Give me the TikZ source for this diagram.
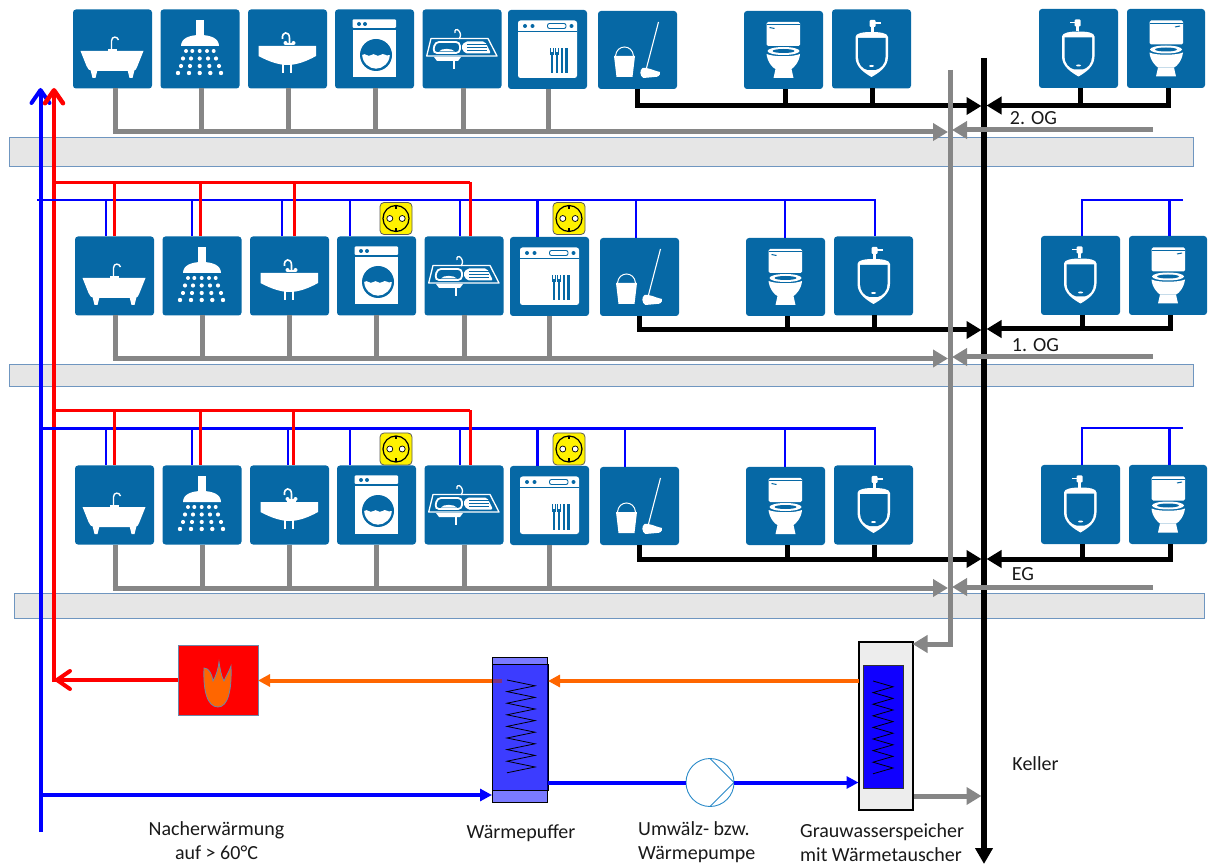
\documentclass[tikz,border=0pt]{standalone}
\usepackage{xcolor}
\usepackage{fontspec}
\setmainfont{Carlito}
\usepackage{tikz}
\usetikzlibrary{arrows.meta,calc}
\definecolor{fixblue}{HTML}{0668A5}
\definecolor{slabgrey}{HTML}{E6E6E6}
\definecolor{slabline}{HTML}{6F96C0}
\definecolor{pipegrey}{HTML}{868686}
\definecolor{heatorange}{HTML}{FF6600}
\definecolor{pumpline}{HTML}{2A8AC8}
\definecolor{flameline}{HTML}{6E86A8}
\definecolor{corestore}{HTML}{1000FF}
\tikzset{
  fixture/.style={fill=fixblue, rounded corners=3pt, minimum width=79pt, minimum height=79pt, inner sep=0pt, outer sep=0pt},
  slab/.style={draw=slabline, fill=slabgrey, line width=0.8pt, inner sep=0pt, outer sep=0pt},
  greypipe/.style={draw=pipegrey, line width=5pt},
  blackpipe/.style={draw=black, line width=5pt},
  coldpipe/.style={draw=blue, line width=2.6pt},
  hotpipe/.style={draw=red, line width=3pt},
  socketbox/.style={draw=black!65, fill=yellow, line width=0.8pt, rounded corners=4pt, minimum size=32pt, inner sep=0pt},
  lbl/.style={font=\fontsize{20}{24}\selectfont, text=black!90, align=center, inner sep=0pt},
  bigtip/.style={-{Triangle[length=15pt,width=17pt]}},
  smalltip/.style={-{Triangle[length=12pt,width=12pt]}},
  barbtip/.style={-{Straight Barb[length=13pt,width=18pt,round]}},
  coil/.style={draw=black, line width=0.8pt, line join=miter},
  bathicon/.pic={
    \fill[white] (-32,2) -- (31,2) -- (25,17) .. controls (24,20) and (23,22) .. (20,22) -- (-20,22) .. controls (-23,22) and (-25,20) .. (-26,17) -- cycle;
    \fill[white] (-22,21) -- (-15,21) -- (-17,29) -- (-20,29) -- cycle;
    \fill[white] (15,21) -- (22,21) -- (20,29) -- (17,29) -- cycle;
    \fill[white] (-5,0) rectangle (4,2);
    \draw[white,line width=1.4pt] (-1,1) -- (-1,-8) .. controls (-1,-13) and (5,-13) .. (6,-9);
  },
  showericon/.pic={
    \fill[white] (-4.3,-29) rectangle (4.2,-13);
    \fill[white] (-19,-3) .. controls (-19,-11) and (-10,-14) .. (0,-14) .. controls (10,-14) and (19,-11) .. (19,-3) -- cycle;
    \foreach \px in {-14,-7.7,-0.3,7,13.7} \fill[white] (\px,2) circle (2);
    \foreach \px in {-17,-9,-0.3,8,16} \fill[white] (\px,9.5) circle (2.1);
    \foreach \px in {-19,-10,-0.3,9.3,19} \fill[white] (\px,17) circle (2.1);
    \foreach \px in {-22,-11,-0.3,10.3,21} \fill[white] (\px,24) circle (2.2);
  },
  sinkicon/.pic={
    \fill[white] (-29,-3) -- (28.5,-3) -- (28.5,7) .. controls (18,13) and (8,16) .. (0,16) .. controls (-8,16) and (-18,13) .. (-29,7) -- cycle;
    \fill[white] (-6,15) rectangle (-3.5,24);
    \fill[white] (2,15) rectangle (4.5,24);
    \draw[white,line width=1.6pt] (2,-5) -- (2,-11) .. controls (2,-18) and (-6,-18) .. (-5,-10);
    \fill[white] (-3,-6) rectangle (6,-3.5);
    \fill[white] (-2,-6) circle (2);
    \fill[white] (6,-6) circle (2);
  },
  washericon/.pic={
    \fill[white,rounded corners=1pt] (-22,-29.5) rectangle (21.5,-21);
    \fill[white] (-22,-19) rectangle (21.5,28.5);
    \fill[fixblue] (-15.5,-25) circle (2);
    \fill[fixblue] (-9.5,-25) circle (2);
    \fill[fixblue] (1.5,6) circle (16);
    \fill[white] (-12.3,6) .. controls (-9,3) and (-7,9) .. (-3,6) .. controls (0,3) and (2,9) .. (6,6) .. controls (9,3) and (11,8) .. (15.3,6) .. controls (15,14) and (8,19.7) .. (1.5,19.7) .. controls (-5,19.7) and (-12,14) .. (-12.3,6) -- cycle;
  },
  kitchenicon/.pic={
    \draw[white,line width=1.3pt,line join=round] (-31,-10.5) -- (26,-10.5) -- (35,7) -- (-35.3,7) -- cycle;
    \draw[white,line width=1.8pt,rounded corners=4pt] (-27,-7) -- (-2,-7) -- (-2,4) -- (-29,4) -- cycle;
    \fill[white] (-23,2.5) .. controls (-21,-1) and (-10,-1) .. (-7,2.5) -- cycle;
    \fill[white,rounded corners=2pt] (-1,-2) -- (3,-7.5) -- (23,-7.5) -- (29,4.5) -- (3,4.5) -- cycle;
    \foreach \py in {-5,-2,1.2} \draw[fixblue,line width=0.8pt] (5,\py) -- (25,\py);
    \fill[white] (-28,8) -- (-1,8) -- (-4,12) -- (-25,12) -- cycle;
    \fill[white] (-8.7,12) rectangle (-6.7,20);
    \draw[white,line width=1.3pt] (-3,-10) .. controls (-1,-13) and (-1,-15) .. (-3,-18) .. controls (-5,-21) and (-8,-19) .. (-7,-16);
  },
  dishicon/.pic={
    \fill[white,rounded corners=2.5pt] (-29.5,-29) rectangle (29.5,28.5);
    \draw[fixblue,line width=1pt] (-29.5,-18) -- (29.5,-18);
    \fill[fixblue] (-22.5,-23.5) circle (2);
    \fill[fixblue] (-15,-23.5) circle (2);
    \fill[fixblue] (24,-23.5) circle (2);
    \draw[fixblue,line width=0.9pt,rounded corners=2pt] (0,-26) rectangle (18.5,-21);
    \foreach \px in {4.5,9.5} {
      \fill[fixblue] (\px-2,-1.5) rectangle (\px+2,6);
      \draw[white,line width=0.5pt] (\px-.7,-1.5) -- (\px-.7,3);
      \draw[white,line width=0.5pt] (\px+.7,-1.5) -- (\px+.7,3);
      \fill[fixblue] (\px-1,6) rectangle (\px+1,24);
    }
    \foreach \px in {14.5,19} \fill[fixblue] (\px-1.1,-1.5) rectangle (\px+1.1,24);
  },
  mopicon/.pic={
    \fill[white] (-23.5,6) -- (-2.5,6) -- (-5,27) -- (-21,27) -- cycle;
    \draw[white,line width=1pt] (-22,6) .. controls (-21,-6) and (-5,-6) .. (-4,6);
    \draw[white,line width=1.1pt] (21,-28) -- (9,18);
    \fill[white] (5,18) .. controls (10,17) and (14,20) .. (22.5,22) .. controls (23,26) and (20,27) .. (17,27) -- (6,28) .. controls (2,26) and (2,20) .. (5,18) -- cycle;
  },
  toileticon/.pic={
    \fill[white,rounded corners=1.5pt] (-17,-28) rectangle (16.5,-4);
    \draw[fixblue,line width=0.7pt] (-17,-25.5) -- (16.5,-25.5);
    \draw[fixblue,line width=1pt] (-14,-22.5) -- (-9,-21.5);
    \fill[white] (0,1) ellipse (16 and 4);
    \fill[fixblue] (0,1) ellipse (11 and 2);
    \fill[white] (-17,4) .. controls (-10,7) and (10,7) .. (16.5,4) .. controls (16,12) and (10,18) .. (8,19) -- (-8,19) .. controls (-11,18) and (-16,12) .. (-17,4) -- cycle;
    \fill[white] (-8,19) -- (8,19) -- (10,28) -- (-10,28) -- cycle;
  },
  urinalicon/.pic={
    \fill[white,rounded corners=1pt] (-2,-29) rectangle (4,-22);
    \fill[white] (3,-26.5) rectangle (9,-25);
    \fill[white] (-.7,-22) rectangle (2.3,-17);
    \fill[white] (-16,-12) .. controls (-16,-16) and (-8,-17) .. (0,-17) .. controls (8,-17) and (16.5,-16) .. (16.5,-12) -- (16.5,8) .. controls (16.5,18) and (7,24) .. (0,28) .. controls (-7,24) and (-16,18) .. (-16,8) -- cycle;
    \fill[fixblue] (-13.5,-11) -- (14,-11) -- (14,8) .. controls (14,15) and (9,20) .. (4,21) -- (-4,21) .. controls (-9,20) and (-13.5,15) .. (-13.5,8) -- cycle;
    \fill[white] (0,17) ellipse (2.5 and 1);
  },
  socketicon/.pic={
    \draw[black,line width=1.2pt] (0,0) circle (13);
    \fill[black] (-1.3,-13) rectangle (1.3,-9.5);
    \fill[black] (-1.3,9.5) rectangle (1.3,13);
    \draw[black,line width=0.7pt,fill=white] (-6.2,0) circle (3);
    \draw[black,line width=0.7pt,fill=white] (6.2,0) circle (3);
  },
}
\begin{document}
\begin{tikzpicture}[x=1pt,y=-1pt]
\useasboundingbox (0,0) rectangle (1208,866);

% slabs
\node[slab, minimum width=1184pt, minimum height=29pt] (slab2) at (601,151.5) {};
\node[slab, minimum width=1184pt, minimum height=22pt] (slab1) at (601,375) {};
\node[slab, minimum width=1190pt, minimum height=25pt] (slab0) at (609,605.5) {};

% stacks and risers
\coordinate (soiltop) at (984,58);
\coordinate (soilend) at (984,864);
\coordinate (ventop) at (950,70);
\coordinate (venbot) at (950,644);
\coordinate (coldtop) at (40.5,88);
\coordinate (coldend) at (40.5,832);
\coordinate (coldjoin) at (40.5,795);
\coordinate (hottop) at (54,88);
\coordinate (hotjoin) at (55,680);
\draw[line width=5.5pt, -{Triangle[length=16pt,width=17pt]}] (soiltop) -- (soilend);
\draw[draw=blue, line width=4pt, barbtip] (coldend) -- (coldtop);
\draw[draw=red, line width=4.5pt, barbtip] ($(hotjoin)+(-1,2)$) -- (hottop);

% fixtures, one row for each floor
\foreach \fl/\dx/\dy/\gs/\by/\byr/\gy/\gyr in {2/0/0/1/106/105.5/132/130, 1/2/227/0/330/329/358.5/357, 0/2/456/0/559/559/588/587}{
  \node[fixture] (bath\fl) at (112.5+\dx,49+\dy) {};
  \node[fixture] (shower\fl) at (200+\dx,49+\dy) {};
  \node[fixture] (sink\fl) at (287.5+\dx,49+\dy) {};
  \node[fixture] (washer\fl) at (374.5+\dx,49+\dy) {};
  \node[fixture] (kitchen\fl) at (462+\dx,49+\dy) {};
  \node[fixture] (dish\fl) at (547.5+\dx,49.5+\dy) {};
  \node[fixture, minimum height=78pt] (mop\fl) at (637.5+\dx,50+\dy) {};
  \node[fixture, minimum height=78pt] (wc\fl) at (783.5+\dx,50+\dy) {};
  \node[fixture] (urinal\fl) at (871.5+\dx,49+\dy) {};
  \node[fixture] (urinalr\fl) at (1078.5+\dx,48.5+\dy) {};
  \node[fixture, minimum width=78pt] (wcr\fl) at (1166+\dx,48.5+\dy) {};
  \pic at (bath\fl) {bathicon};
  \pic at (shower\fl) {showericon};
  \pic at (sink\fl) {sinkicon};
  \pic at (washer\fl) {washericon};
  \pic at (kitchen\fl) {kitchenicon};
  \pic at (dish\fl) {dishicon};
  \pic at (mop\fl) {mopicon};
  \pic at (wc\fl) {toileticon};
  \pic at (urinal\fl) {urinalicon};
  \pic[xscale=-1] at (urinalr\fl) {urinalicon};
  \pic[xscale=-1] at (wcr\fl) {toileticon};

  % grey water
  \coordinate (greyl\fl) at (115,\gy);
  \coordinate (greye\fl) at (948,\gy);
  \coordinate (greyr\fl) at (1153,\gyr);
  \coordinate (greyf\fl) at (952,\gyr);
  \draw[greypipe] ([xshift=2.5-\dx pt]bath\fl.south) -- ([xshift=2.5-\dx pt]bath\fl.south |- greyl\fl);
  \foreach \fix in {shower,sink,washer,kitchen,dish}
    \draw[greypipe] ([xshift=\gs pt]\fix\fl.south) -- ([xshift=\gs pt]\fix\fl.south |- greyl\fl);
  \draw[greypipe, bigtip] ($(greyl\fl)+(-2.5,0)$) -- (greye\fl);
  \draw[greypipe, bigtip] (greyr\fl) -- (greyf\fl);

  % black water
  \coordinate (soill\fl) at (981.5,\by);
  \coordinate (soilr\fl) at (986.5,\byr);
  \draw[blackpipe, bigtip] (mop\fl.south) |- (soill\fl);
  \draw[blackpipe] ([xshift=2pt]wc\fl.south) -- ([xshift=2pt]wc\fl.south |- soill\fl);
  \draw[blackpipe] ([xshift=.5pt]urinal\fl.south) -- ([xshift=.5pt]urinal\fl.south |- soill\fl);
  \draw[blackpipe] ([xshift=2pt]urinalr\fl.south) -- ([xshift=2pt]urinalr\fl.south |- soilr\fl);
  \draw[blackpipe, bigtip] ([xshift=2.5pt]wcr\fl.south) |- (soilr\fl);
}

% cold and hot mains, 1. OG
\coordinate (coldl1) at (37,200);
\coordinate (coldr1) at (875,200);
\coordinate (hotl1) at (54,182.5);
\coordinate (hotr1) at (470,182.5);
\coordinate (coldra1) at (1183,200);
\draw[coldpipe] (coldl1) -- (coldr1) -- (urinal1.north -| coldr1);
\foreach \fix/\off in {bath/-8.5,shower/-10,sink/-7.5,washer/-26.5,kitchen/-4,dish/-12,mop/-3.5,wc/-0.5}
  \draw[coldpipe] ([xshift=\off pt]\fix1.north |- coldl1) -- ([xshift=\off pt]\fix1.north);
\draw[coldpipe] (coldra1) -- ([xshift=1.5pt]urinalr1.north |- coldra1) -- ([xshift=1.5pt]urinalr1.north);
\draw[coldpipe] ([xshift=1.5pt]wcr1.north |- coldra1) -- ([xshift=1.5pt]wcr1.north);
\draw[hotpipe, line width=2.6pt] (hotl1) -- (hotr1);
\foreach \fix/\off in {bath/-0.5,shower/-2,sink/4.5}
  \draw[hotpipe] ([xshift=\off pt]\fix1.north |- hotl1) -- ([xshift=\off pt]\fix1.north);
\draw[hotpipe] (hotr1) -- ([xshift=6pt]kitchen1.north);

% cold and hot mains, EG
\coordinate (coldl0) at (40,428.5);
\coordinate (coldr0) at (875,428.5);
\coordinate (hotl0) at (54,410.5);
\coordinate (hotr0) at (470,410.5);
\coordinate (coldra0) at (1183,428);
\draw[coldpipe] (coldl0) -- (coldr0) -- (urinal0.north -| coldr0);
\foreach \fix/\off in {bath/-8.5,shower/-10,sink/-1.5,washer/-26.5,kitchen/-4,dish/-12,mop/-14.5,wc/-0.5}
  \draw[coldpipe] ([xshift=\off pt]\fix0.north |- coldl0) -- ([xshift=\off pt]\fix0.north);
\draw[coldpipe] (coldra0) -- ([xshift=1.5pt]urinalr0.north |- coldra0) -- ([xshift=1.5pt]urinalr0.north);
\draw[coldpipe] ([xshift=1.5pt]wcr0.north |- coldra0) -- ([xshift=1.5pt]wcr0.north);
\draw[hotpipe, line width=2.6pt] (hotl0) -- (hotr0);
\foreach \fix/\off in {bath/-0.5,shower/-2,sink/3.5}
  \draw[hotpipe] ([xshift=\off pt]\fix0.north |- hotl0) -- ([xshift=\off pt]\fix0.north);
\draw[hotpipe] (hotr0) -- ([xshift=6pt]kitchen0.north);

% sockets
\node[socketbox] (socketa1) at (396,218.5) {};
\node[socketbox] (socketb1) at (569,218.5) {};
\node[socketbox] (socketa0) at (396,449) {};
\node[socketbox] (socketb0) at (569,449) {};
\foreach \sock in {socketa1,socketb1,socketa0,socketb0} \pic at (\sock) {socketicon};

% grey stack down to the store
\node[draw=black, fill=black!7, line width=2pt, minimum width=54pt, minimum height=168pt, inner sep=0pt, outer sep=0pt] (store) at (885.5,725.5) {};
\node[draw=black!80, fill=corestore, line width=0.8pt, minimum width=40pt, minimum height=123pt, inner sep=0pt, outer sep=0pt] (storecore) at (883,726.5) {};
\draw[greypipe] (ventop) -- ($(venbot)+(0,3)$);
\draw[greypipe, bigtip] (venbot) -- (venbot -| store.east);
\coordinate (storeout) at (914,796);
\draw[greypipe, bigtip] (storeout) -- (981.5,796);
\draw[coil] (873,681) foreach \k in {1,...,16} { -- ({873+mod(\k,2)*20},{681+\k*5.8}) };

% heat path
\node[draw=flameline, fill=red, line width=0.8pt, minimum width=80pt, minimum height=70pt, inner sep=0pt, outer sep=0pt] (heater) at (218,680) {};
\draw[draw=flameline, fill=heatorange, line width=0.8pt] (204,668) .. controls (209,668) and (212,674) .. (213,681) .. controls (216,676) and (218,670) .. (219,662) .. controls (220,668) and (221,676) .. (224,681) .. controls (226,676) and (229,672) .. (231,666) .. controls (232,690) and (228,707) .. (218,707) .. controls (207,707) and (203,690) .. (204,668) -- cycle;
\node[draw=black, fill=blue!52, line width=0.8pt, minimum width=55pt, minimum height=145pt, inner sep=0pt, outer sep=0pt] (buffer) at (519.5,729.5) {};
\coordinate (bufleak) at (502,680.5);
\coordinate (storetap) at (859,681);
\draw[draw=heatorange, line width=4pt, smalltip] (bufleak) -- (bufleak -| heater.east);
\node[draw=black, fill=blue, fill opacity=.5, line width=0.8pt, minimum width=56pt, minimum height=126pt, inner sep=0pt, outer sep=0pt] (buffercore) at (520,727) {};
\draw[coil] (507,680) foreach \k in {1,...,16} { -- ({507+mod(\k,2)*28},{680+\k*5.8}) };
\draw[draw=heatorange, line width=4pt, smalltip] (storetap) -- (storetap -| buffercore.east);
\draw[draw=red, line width=4pt, barbtip] (heater.west) -- (hotjoin);

% cold path
\node[draw=pumpline, line width=0.9pt, circle, minimum size=48pt, inner sep=0pt, outer sep=0pt] (pump) at (710,782.5) {};
\draw[draw=pumpline, line width=0.9pt] (pump.north) -- (pump.east) -- (pump.south);
\draw[draw=blue, line width=4pt, smalltip] (coldjoin) -- (coldjoin -| buffer.west);
\draw[draw=blue, line width=4pt] (pump.west -| buffercore.east) -- (pump.west);
\draw[draw=blue, line width=4pt, smalltip] (pump.east) -- (pump.east -| store.west);

% labels
\node[lbl] (lblog2) at (1033.5,118) {2. OG};
\node[lbl] (lblog1) at (1035.5,345) {1. OG};
\node[lbl] (lbleg) at (1023,574) {EG};
\node[lbl] (lblkeller) at (1035.5,764) {Keller};
\node[lbl] (lblheat) at (216.5,841) {Nacherwärmung\\auf > 60°C};
\node[lbl] (lblbuffer) at (521,833) {Wärmepuffer};
\node[lbl, align=left, anchor=west] (lblpump) at (638,842) {Umwälz- bzw.\\Wärmepumpe};
\node[lbl, align=left, anchor=west] (lblstore) at (800,843) {Grauwasserspeicher\\mit Wärmetauscher};
\end{tikzpicture}
\end{document}
